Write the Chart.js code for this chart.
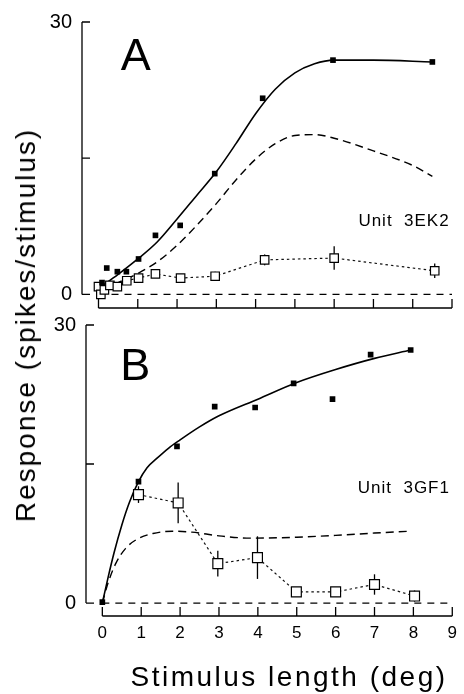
<!DOCTYPE html>
<html>
<head>
<meta charset="utf-8">
<script src="https://cdn.jsdelivr.net/npm/chart.js@4.4.0/dist/chart.umd.min.js"></script>
<style>
    body { margin: 0; background: #fff; width: 464px; height: 694px; position: relative; overflow: hidden;
           font-family: "Liberation Sans", Arial, sans-serif; color: #000; }
    canvas { position: absolute; left: 0; top: 0; }
    .titulo { position: absolute; white-space: nowrap; font-size: 28px; line-height: 1;
              transform: translate(-50%, -50%); letter-spacing: 2px; }
    #tituloY { left: 26px; top: 325px; transform: translate(-50%, -50%) rotate(-90deg); letter-spacing: 2px; }
    #tituloX { left: 289px; top: 677px; letter-spacing: 2.5px; }
</style>
</head>
<body>
<canvas id="panelA" width="464" height="694"></canvas>
<canvas id="panelB" width="464" height="694"></canvas>
<div class="titulo" id="tituloY">Response (spikes/stimulus)</div>
<div class="titulo" id="tituloX">Stimulus length (deg)</div>
<script>
// Panel A (Unit 3EK2)
const aLlenosX = [0.09, 0.21, 0.48, 0.71, 1.02, 1.45, 2.08, 2.96, 4.18, 5.97, 8.5];
const aLlenosY = [1.3, 2.9, 2.5, 2.5, 3.9, 6.5, 7.6, 13.3, 21.6, 25.8, 25.6];
const aVaciosX = [0, 0.06, 0.15, 0.29, 0.48, 0.72, 1.02, 1.45, 2.09, 2.97, 4.23, 6.0, 8.56];
const aVaciosY = [0.85, 0, 0.5, 1.0, 0.86, 1.5, 1.8, 2.25, 1.8, 2.0, 3.8, 4.0, 2.6];
const aErrores = [0.2, 0.3, 0.2, 0.2, 0.2, 0.3, 0.3, 0.4, 0.3, 0.5, 0.6, 1.3, 0.8];
const aCurvaX = [0.05, 0.5, 1.0, 1.5, 2.0, 2.5, 3.0, 3.5, 4.0, 4.5, 5.0, 5.5, 6.0, 7.0, 8.5];
const aCurvaY = [0.8, 2.2, 3.9, 5.8, 8.3, 10.9, 13.5, 16.6, 19.9, 22.6, 24.4, 25.4, 25.8, 25.8, 25.6];
const aTrazosX = [0.1, 0.5, 1.0, 1.5, 2.0, 2.5, 3.0, 3.5, 4.0, 4.5, 5.0, 5.5, 6.0, 7.0, 8.0, 8.5];
const aTrazosY = [0.6, 1.3, 2.3, 3.6, 5.4, 7.6, 10.0, 12.6, 14.9, 16.6, 17.5, 17.6, 17.2, 15.8, 14.2, 13.0];

// Panel B (Unit 3GF1)
const bLlenosX = [0, 0.93, 1.92, 2.89, 3.93, 4.92, 5.92, 6.9, 7.93];
const bLlenosY = [0.1, 13.1, 16.9, 21.2, 21.1, 23.7, 22.0, 26.8, 27.3];
const bVaciosX = [0.93, 1.95, 2.97, 3.99, 4.99, 6.0, 7.0, 8.03];
const bVaciosY = [11.7, 10.8, 4.25, 4.9, 1.2, 1.2, 2.0, 0.75];
const bErrores = [0.9, 2.2, 1.4, 2.3, 0.4, 0.2, 1.1, 0.6];
const bCurvaX = [0, 0.15, 0.3, 0.5, 0.7, 0.93, 1.15, 1.4, 1.7, 2.0, 2.5, 3.0, 4.0, 5.0, 6.0, 7.0, 7.93];
const bCurvaY = [0, 2.8, 5.4, 8.4, 10.9, 13.1, 14.6, 15.6, 16.7, 17.6, 19.0, 20.2, 22.0, 23.8, 25.2, 26.4, 27.3];
const bTrazosX = [0, 0.15, 0.35, 0.6, 0.9, 1.3, 1.8, 2.3, 3.0, 3.8, 5.0, 6.0, 7.0, 7.94];
const bTrazosY = [0, 2.2, 4.3, 5.9, 6.9, 7.5, 7.75, 7.65, 7.25, 7.0, 7.1, 7.3, 7.55, 7.75];

// Ejes
const ticksX = [0, 1, 2, 3, 4, 5, 6, 7, 8, 9];
const ticksY = [0, 15, 30];
const lineaCeroX = [0, 9];

const fuente = '"Liberation Sans", Arial, sans-serif';
const juntar = (xs, ys) => xs.map((x, i) => ({ x: x, y: ys[i] }));

// Ejes separados al estilo del original, con marcas hacia dentro
const ejesPlugin = {
    id: "ejes",
    afterDraw(chart) {
        const ctx = chart.ctx;
        const sx = chart.scales.x, sy = chart.scales.y;
        const area = chart.chartArea;
        ctx.save();
        ctx.strokeStyle = "#000";
        ctx.lineWidth = 1.3;
        ctx.beginPath();
        ctx.moveTo(area.left, sy.getPixelForValue(ticksY[0]));
        ctx.lineTo(area.left, sy.getPixelForValue(ticksY[ticksY.length - 1]));
        ticksY.forEach(v => {
            const y = sy.getPixelForValue(v);
            ctx.moveTo(area.left, y);
            ctx.lineTo(area.left + 8, y);
        });
        ctx.moveTo(sx.getPixelForValue(ticksX[0]), area.bottom);
        ctx.lineTo(sx.getPixelForValue(ticksX[ticksX.length - 1]), area.bottom);
        ticksX.forEach(v => {
            const x = sx.getPixelForValue(v);
            ctx.moveTo(x, area.bottom);
            ctx.lineTo(x, area.bottom - 9);
        });
        ctx.stroke();
        ctx.restore();
    }
};

// Barras de error verticales
const erroresPlugin = {
    id: "errores",
    beforeDatasetsDraw(chart) {
        const ctx = chart.ctx;
        const sx = chart.scales.x, sy = chart.scales.y;
        ctx.save();
        ctx.strokeStyle = "#000";
        ctx.lineWidth = 1.3;
        chart.data.datasets.forEach(ds => {
            if (!ds.errores) return;
            ds.data.forEach((p, i) => {
                const x = sx.getPixelForValue(p.x);
                ctx.beginPath();
                ctx.moveTo(x, sy.getPixelForValue(p.y - ds.errores[i]));
                ctx.lineTo(x, sy.getPixelForValue(p.y + ds.errores[i]));
                ctx.stroke();
            });
        });
        ctx.restore();
    }
};

// Letras y rótulos dentro del panel
const notasPlugin = {
    id: "notas",
    afterDatasetsDraw(chart, args, opts) {
        const ctx = chart.ctx;
        const sx = chart.scales.x, sy = chart.scales.y;
        ctx.save();
        ctx.fillStyle = "#000";
        ctx.textBaseline = "middle";
        (opts.items || []).forEach(n => {
            ctx.font = n.size + "px " + fuente;
            ctx.textAlign = n.align;
            if ("letterSpacing" in ctx) ctx.letterSpacing = n.espacio || "0px";
            ctx.fillText(n.texto, sx.getPixelForValue(n.x), sy.getPixelForValue(n.y));
        });
        ctx.restore();
    }
};

function crearPanel(canvasId, d, conf) {
    return new Chart(document.getElementById(canvasId), {
        type: "scatter",
        data: {
            datasets: [
                {
                    data: juntar(d.vaciosX, d.vaciosY),
                    errores: d.errores,
                    showLine: true,
                    borderColor: "#111",
                    borderWidth: 1.2,
                    borderDash: [2.5, 3],
                    pointStyle: "rect",
                    pointRadius: conf.radioVacio,
                    pointBackgroundColor: "#fff",
                    pointBorderColor: "#000",
                    pointBorderWidth: 1.2,
                    order: 1
                },
                {
                    data: juntar(d.llenosX, d.llenosY),
                    showLine: false,
                    pointStyle: "rect",
                    pointRadius: 4,
                    pointBackgroundColor: "#000",
                    pointBorderWidth: 0,
                    order: 0
                },
                {
                    data: juntar(d.curvaX, d.curvaY),
                    showLine: true,
                    borderColor: "#000",
                    borderWidth: 1.6,
                    pointRadius: 0,
                    cubicInterpolationMode: "monotone",
                    order: 3
                },
                {
                    data: juntar(d.trazosX, d.trazosY),
                    showLine: true,
                    borderColor: "#000",
                    borderWidth: 1.4,
                    borderDash: [8, 5],
                    pointRadius: 0,
                    cubicInterpolationMode: "monotone",
                    order: 4
                },
                {
                    data: juntar(lineaCeroX, [0, 0]),
                    showLine: true,
                    borderColor: "#000",
                    borderWidth: 1.2,
                    borderDash: [7, 6],
                    pointRadius: 0,
                    order: 5
                }
            ]
        },
        options: {
            responsive: false,
            animation: false,
            layout: { padding: conf.padding },
            plugins: {
                legend: { display: false },
                tooltip: { enabled: false },
                notas: { items: conf.notas }
            },
            scales: {
                x: {
                    type: "linear",
                    min: -0.42,
                    max: 9,
                    display: conf.etiquetasX,
                    afterBuildTicks: s => { s.ticks = ticksX.map(v => ({ value: v })); },
                    afterFit: s => { s.height = conf.altoX; },
                    grid: { display: false, drawTicks: false },
                    border: { display: false },
                    ticks: { color: "#000", padding: 7, font: { family: fuente, size: 17 }, maxRotation: 0 }
                },
                y: {
                    min: conf.minY,
                    max: 30,
                    afterBuildTicks: s => { s.ticks = ticksY.map(v => ({ value: v })); },
                    afterFit: s => { s.width = conf.anchoY; },
                    grid: { display: false, drawTicks: false },
                    border: { display: false },
                    ticks: {
                        color: "#000",
                        padding: 10,
                        font: { family: fuente, size: 20 },
                        callback: v => (v === 15 ? "" : v)
                    }
                }
            }
        },
        plugins: [ejesPlugin, erroresPlugin, notasPlugin]
    });
}

crearPanel("panelA", {
    llenosX: aLlenosX, llenosY: aLlenosY,
    vaciosX: aVaciosX, vaciosY: aVaciosY, errores: aErrores,
    curvaX: aCurvaX, curvaY: aCurvaY,
    trazosX: aTrazosX, trazosY: aTrazosY
}, {
    padding: { top: 13, right: 12, bottom: 386, left: 0 },
    anchoY: 82,
    altoX: 0,
    etiquetasX: false,
    minY: -1.5,
    radioVacio: 6,
    notas: [
        { texto: "A", x: 0.95, y: 26.1, size: 45, align: "center" },
        { texto: "Unit  3EK2", x: 8.94, y: 8.1, size: 17, align: "right", espacio: "1px" }
    ]
});

crearPanel("panelB", {
    llenosX: bLlenosX, llenosY: bLlenosY,
    vaciosX: bVaciosX, vaciosY: bVaciosY, errores: bErrores,
    curvaX: bCurvaX, curvaY: bCurvaY,
    trazosX: bTrazosX, trazosY: bTrazosY
}, {
    padding: { top: 325, right: 9, bottom: 0, left: 0 },
    anchoY: 86,
    altoX: 78,
    etiquetasX: true,
    minY: -1.4,
    radioVacio: 7,
    notas: [
        { texto: "B", x: 0.85, y: 25.4, size: 45, align: "center" },
        { texto: "Unit  3GF1", x: 8.94, y: 12.4, size: 17, align: "right", espacio: "1px" }
    ]
});
</script>
</body>
</html>
